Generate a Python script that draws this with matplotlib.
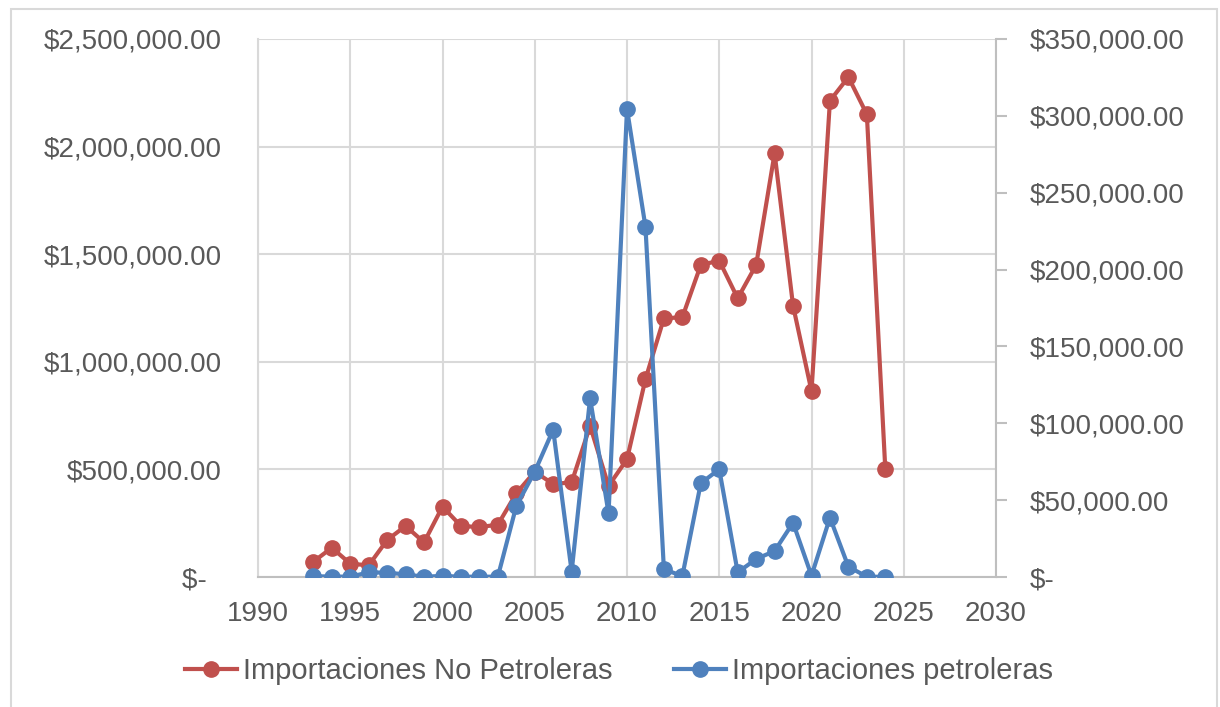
import matplotlib
matplotlib.use("Agg")
import matplotlib.pyplot as plt
from matplotlib.lines import Line2D
from matplotlib.patches import Rectangle

years = list(range(1993, 2025))
no_petroleras = [71000, 136000, 62000, 54000, 172000, 237000, 161000, 327000,
                 237000, 232000, 243000, 389000, 489000, 432000, 440000, 702000,
                 423000, 547000, 919000, 1202000, 1207000, 1450000, 1470000, 1295000,
                 1450000, 1969000, 1261000, 864000, 2213000, 2323000, 2150000, 502000]
petroleras = [500, 300, 200, 3000, 2800, 1700, 200, 700,
              200, 200, 200, 46200, 68500, 95800, 3500, 116300,
              41400, 304500, 227900, 5000, 650, 61000, 70100, 3000,
              11700, 16900, 35300, 900, 38600, 6700, 200, 100]

x_ticks = [1990, 1995, 2000, 2005, 2010, 2015, 2020, 2025, 2030]
left_ticks = [0, 500000, 1000000, 1500000, 2000000, 2500000]
left_labels = ["$-  ", "$500,000.00", "$1,000,000.00", "$1,500,000.00",
               "$2,000,000.00", "$2,500,000.00"]
right_ticks = [0, 50000, 100000, 150000, 200000, 250000, 300000, 350000]
right_labels = ["$-", "$50,000.00", "$100,000.00", "$150,000.00", "$200,000.00",
                "$250,000.00", "$300,000.00", "$350,000.00"]
series_names = ["Importaciones No Petroleras", "Importaciones petroleras"]

RED = "#C0504D"
BLUE = "#4F81BD"
TXT = "#595959"
GRID = "#D9D9D9"

plt.rcParams['font.family'] = ['Liberation Sans', 'DejaVu Sans']

fig = plt.figure(figsize=(12.2, 7.07), dpi=100)
fig.patches.append(Rectangle((11/1220, -0.01), (1217-11)/1220, 1 - 8.5/707 + 0.01,
                             transform=fig.transFigure, fill=False,
                             edgecolor=GRID, linewidth=1.5))

ax = fig.add_axes([258/1220, 1 - 577/707, (996-258)/1220, (577-39)/707])
ax2 = ax.twinx()

ax.plot(years, no_petroleras, color=RED, lw=3, marker='o', ms=11, zorder=3,
        solid_capstyle='round')
ax2.plot(years, petroleras, color=BLUE, lw=3, marker='o', ms=11, zorder=3,
         solid_capstyle='round')

ax.set_xlim(1990, 2030)
ax.set_ylim(0, 2500000)
ax2.set_ylim(0, 350000)
ax.set_xticks(x_ticks)
ax.set_xticklabels([str(t) for t in x_ticks])
ax.set_yticks(left_ticks)
ax.set_yticklabels(left_labels)
ax2.set_yticks(right_ticks)
ax2.set_yticklabels(right_labels)

ax.grid(True, color=GRID, lw=1.5)
ax.set_axisbelow(True)

for a in (ax, ax2):
    for s in a.spines.values():
        s.set_visible(False)
ax.spines['left'].set_visible(True)
ax.spines['left'].set_color(GRID)
ax.spines['left'].set_linewidth(1.5)
ax.spines['bottom'].set_visible(True)
ax.spines['bottom'].set_color("#BFBFBF")
ax.spines['bottom'].set_linewidth(1.5)
ax2.spines['right'].set_visible(True)
ax2.spines['right'].set_color("#BFBFBF")
ax2.spines['right'].set_linewidth(1.5)

ax.tick_params(axis='x', length=0, pad=17, labelsize=20, labelcolor=TXT)
ax.tick_params(axis='y', length=0, pad=26, labelsize=20, labelcolor=TXT)
ax2.tick_params(axis='y', length=8, width=1.5, color="#BFBFBF", direction='out',
                pad=16, labelsize=20, labelcolor=TXT)

handles = [Line2D([], [], color=RED, lw=3, marker='o', ms=11),
           Line2D([], [], color=BLUE, lw=3, marker='o', ms=11)]
leg = fig.legend(handles, series_names, loc='center',
                 bbox_to_anchor=(619/1220, 1 - 671/707),
                 ncol=2, frameon=False, fontsize=21, handlelength=1.8,
                 handletextpad=0.2, columnspacing=2.1, labelcolor=TXT)

fig.savefig("out.png", dpi=100, facecolor="white")
